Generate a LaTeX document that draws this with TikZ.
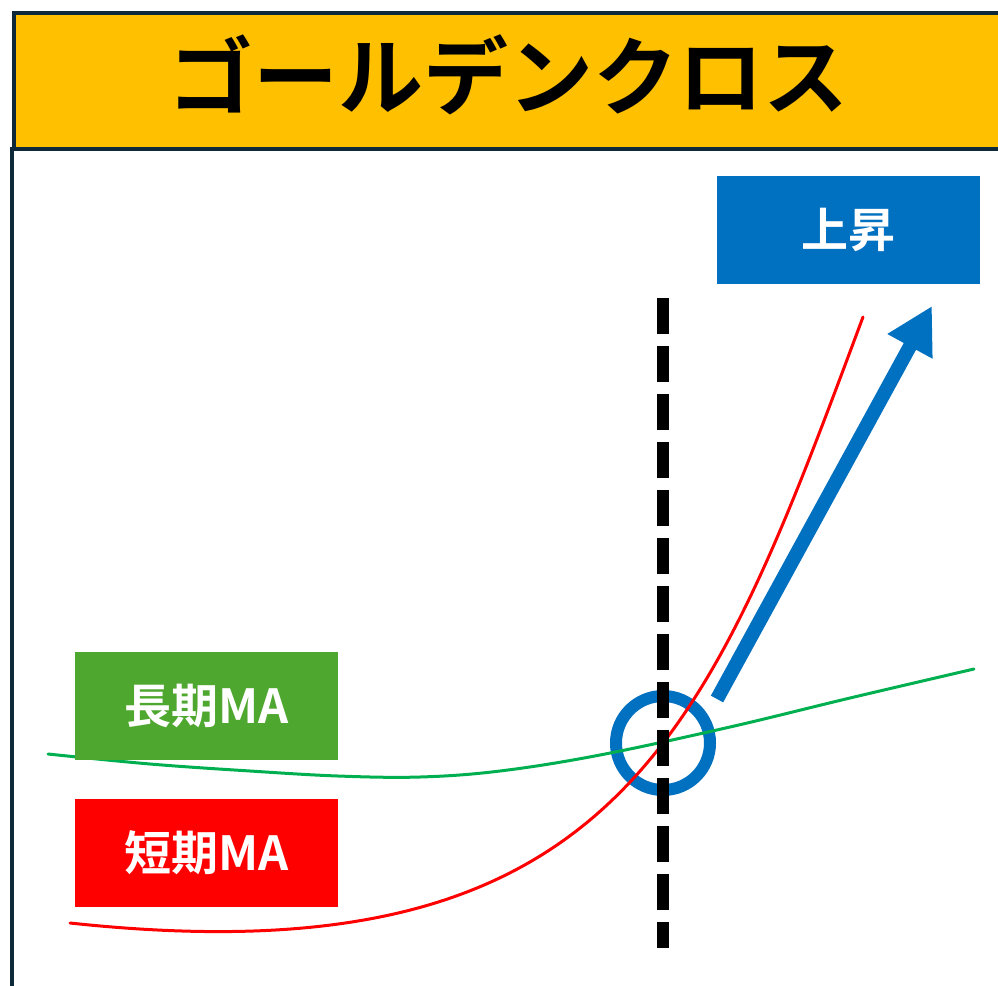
\documentclass[tikz,border=0pt]{standalone}
\usepackage{fontspec}
\newfontfamily\jp{Noto Sans CJK JP}[BoldFont={Noto Sans CJK JP Bold}]
\usetikzlibrary{arrows.meta}
\definecolor{ttlyellow}{HTML}{FFC000}
\definecolor{framedark}{HTML}{0E2A3A}
\definecolor{upblue}{HTML}{0070C0}
\definecolor{longgreen}{HTML}{4EA72E}
\definecolor{linegreen}{HTML}{00B050}
\definecolor{shortred}{HTML}{FF0000}
\tikzset{
  labelbox/.style={minimum width=263pt, minimum height=108pt, inner sep=0pt, text=white, font=\jp\bfseries\fontsize{47}{50}\selectfont},
  maline/.style={line width=3pt, line cap=round},
}
\begin{document}
\begin{tikzpicture}[x=1pt,y=-1pt]
\useasboundingbox (0,0) rectangle (998,985);
\clip (0,0) rectangle (998,985);
\fill[white] (0,0) rectangle (998,985);
% frame
\draw[framedark, line width=4pt] (12,147) -- (12,1000);
\node[draw=framedark, line width=4pt, fill=ttlyellow, minimum width=1000pt, minimum height=136pt, inner sep=0pt, anchor=north west] (title) at (12,11) {};
\node[font=\jp\bfseries\fontsize{85}{90}\selectfont, inner sep=0pt] (titletext) at (508,75) {ゴールデンクロス};
% focus circle
\node[draw=upblue, line width=12pt, circle, minimum size=94pt, inner sep=0pt] (cross) at (663,743) {};
% moving averages
\draw[maline, linegreen] plot[smooth, tension=0.6] coordinates {(48,754) (150,764) (250,771) (338,776) (420,777) (500,771) (600,755) (730,727) (850,698) (974,669)};
\coordinate (rstart) at (70,923);
\coordinate (rend) at (863,317);
\draw[maline, shortred] (rstart) .. controls (620,982) and (708,732) .. (rend);
% vertical dashed line
\coordinate (dtop) at (663,298);
\coordinate (dbot) at (663,948);
\draw[black, line width=12pt, dash pattern=on 36pt off 12pt] (dtop) -- (dbot);
% arrow
\coordinate (atail) at (717,699);
\coordinate (ahead) at (932,306);
\draw[upblue, line width=14pt, -{Triangle[width=48pt,length=46pt]}] (atail) -- (ahead);
% label boxes
\node[labelbox, fill=upblue] (up) at (848.5,230) {上昇};
\node[labelbox, fill=longgreen] (longma) at (206.5,706) {長期MA};
\node[labelbox, fill=shortred] (shortma) at (206.5,853) {短期MA};
\end{tikzpicture}
\end{document}
